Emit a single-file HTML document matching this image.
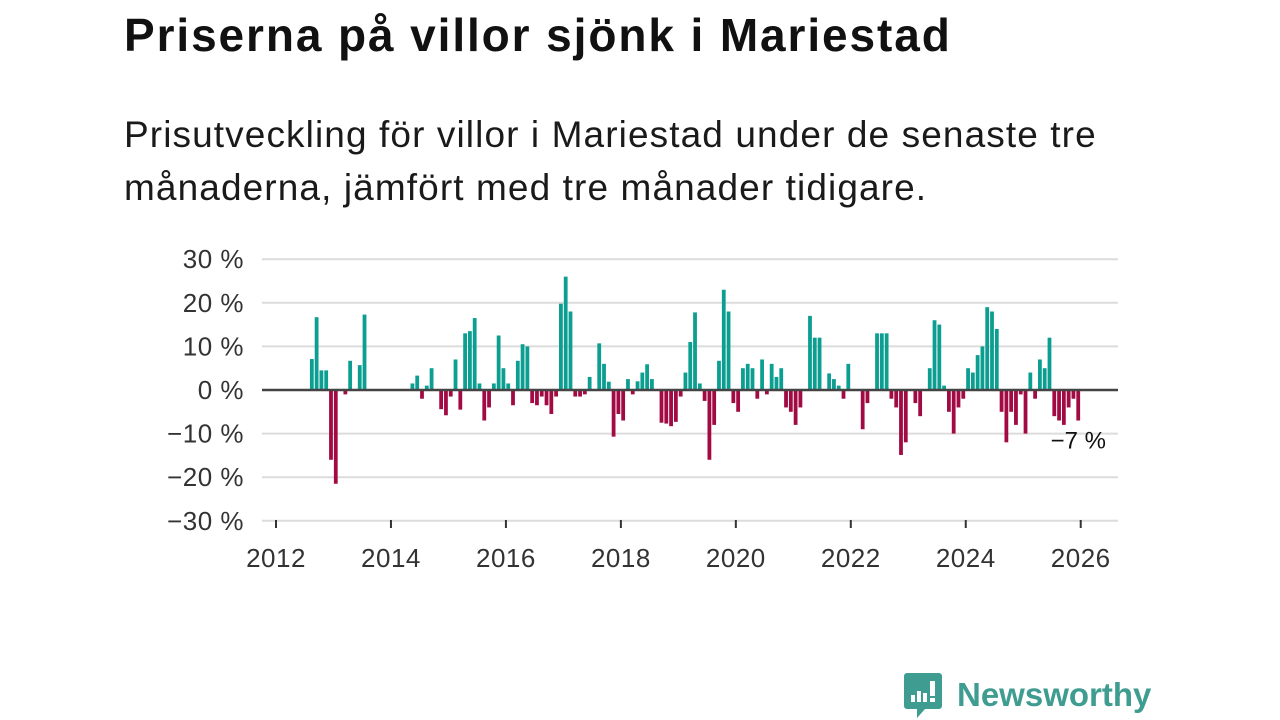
<!DOCTYPE html>
<html><head><meta charset="utf-8">
<style>
body{margin:0;width:1280px;height:720px;background:#fff;overflow:hidden;font-family:"Liberation Sans","DejaVu Sans",sans-serif;color:#111;position:relative}
#title{position:absolute;left:124px;top:8px;font-size:46px;font-weight:bold;margin:0;letter-spacing:1.9px}
#sub{position:absolute;left:124px;top:108px;font-size:37px;line-height:53px;margin:0;width:1010px;color:#1a1a1a;letter-spacing:1.1px}
svg text{font-family:"Liberation Sans","DejaVu Sans",sans-serif}
</style></head><body>
<h1 id="title">Priserna på villor sjönk i Mariestad</h1>
<p id="sub">Prisutveckling för villor i Mariestad under de senaste tre månaderna, jämfört med tre månader tidigare.</p>
<svg id="chart" width="1280" height="720" style="position:absolute;left:0;top:0"></svg>
<div style="position:absolute;left:903px;top:671px;height:48px;display:flex;align-items:center">
<svg width="40" height="48"><path d="M4 2h32a3 3 0 0 1 3 3v30a3 3 0 0 1-3 3H22l-8 9v-9H4a3 3 0 0 1-3-3V5a3 3 0 0 1 3-3z" fill="#3f9c90"/><rect x="8" y="24" width="4" height="7" fill="#fff"/><rect x="14" y="20" width="4" height="11" fill="#fff"/><rect x="20" y="22" width="4" height="9" fill="#fff"/><rect x="27" y="10" width="5" height="15" fill="#fff"/><rect x="27" y="27" width="5" height="4" fill="#fff"/></svg>
<span style="margin-left:14px;font-size:33px;font-weight:bold;color:#3f9c90">Newsworthy</span>
</div>
<script>
const startYear = 2012;
const yTicks = [30,20,10,0,-10,-20,-30];
const xTickYears = [2012,2014,2016,2018,2020,2022,2024,2026];
// monthly values from Jan 2012 (index 0); null = no data
const values = [
null,null,null,null,null,null,null,7.1,16.7,4.5,4.5,-16,
-21.5,0,-1,6.7,0,5.7,17.3,null,null,null,null,null,
null,null,null,null,1.5,3.3,-2,1,5,0,-4.4,-5.8,
-1.5,7,-4.5,13,13.5,16.5,1.5,-7,-4,1.5,12.5,5,
1.5,-3.5,6.7,10.5,10,-3,-3.5,-1.5,-3.5,-5.5,-1.5,19.8,
26,18,-1.5,-1.5,-1,3,0,10.7,6,1.9,-10.7,-5.5,
-7,2.5,-1,2,4,5.9,2.5,0,-7.5,-7.7,-8.3,-7.3,
-1.5,4,11,17.8,1.5,-2.5,-16,-8,6.7,23,18,-3,
-5,5,6,5,-2,7,-1,6,3,5,-4,-5,
-8,-4,0,17,12,12,0,3.8,2.5,1,-2,6,
0,0,-9,-3,0,13,13,13,-2,-4,-14.9,-12,
0,-3,-6,0,5,16,15,1,-5,-10,-4,-2,
5,4,8,10,19,18,14,-5,-12,-5,-8,-1,
-10,4,-2,7,5,12,-6,-7,-8,-4,-2,-7
];
const lastLabel = "−7 %";
const NS="http://www.w3.org/2000/svg";
const svg=document.getElementById('chart');
const x0=276, monthW=4.79, y0=390, unit=4.36, plotL=262, plotR=1118;
const xScale=m=>x0+m*monthW;
const yScale=v=>y0-v*unit;
function mk(t,a){const e=document.createElementNS(NS,t);for(const k in a)e.setAttribute(k,a[k]);svg.appendChild(e);return e;}
yTicks.forEach(v=>{
  if(v!==0){const g=mk('line',{x1:plotL,x2:plotR,y1:yScale(v),y2:yScale(v),stroke:'#dcdcdc','stroke-width':2});
  
  }
  const t=mk('text',{x:244,y:yScale(v)+9,'text-anchor':'end','font-size':26,fill:'#333','letter-spacing':0.5});
  t.textContent=(v<0?'−'+(-v):v)+' %';
  
  
});
values.forEach((v,i)=>{
  if(v===null||v===0)return;
  const y=Math.min(yScale(v),y0), h=Math.abs(yScale(v)-y0);
  const r=mk('rect',{x:xScale(i)+0.4,y:y,width:monthW-1,height:h,fill:v>0?'#0c9e91':'#a10a42'});
  
  
});
const zl=mk('line',{x1:plotL,x2:plotR,y1:y0,y2:y0,stroke:'#444','stroke-width':2.5});


xTickYears.forEach(yr=>{
  const x=xScale((yr-startYear)*12);
  const tk=mk('line',{x1:x,x2:x,y1:520,y2:528,stroke:'#333','stroke-width':2});
  
  
  const t=mk('text',{x:x,y:567,'text-anchor':'middle','font-size':26,fill:'#333','letter-spacing':0.5});
  t.textContent=yr;
  
  
});
const li=values.length-1;
const lb=mk('text',{x:xScale(li)+30,y:yScale(values[li])+28,'text-anchor':'end','font-size':24,fill:'#111'});
lb.textContent=lastLabel;


</script>
</body></html>
